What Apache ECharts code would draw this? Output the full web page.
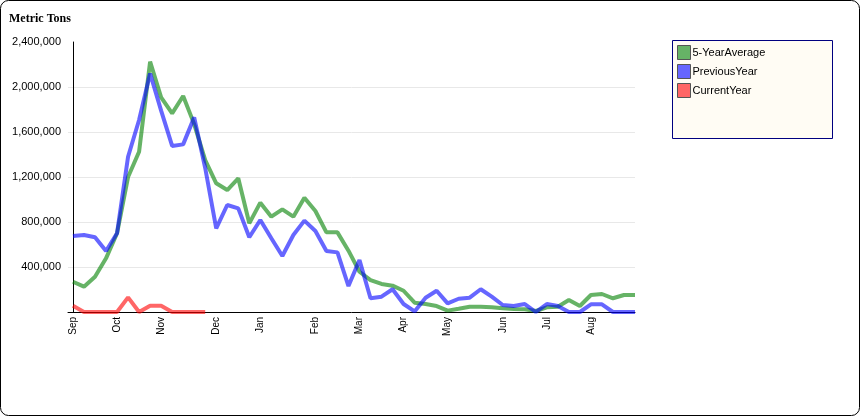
<!DOCTYPE html>
<html>
<head>
<meta charset="utf-8">
<script src="https://cdn.jsdelivr.net/npm/echarts@6/dist/echarts.min.js"></script>
<style>
html,body{margin:0;padding:0;background:#fff;}
#chart{width:860px;height:416px;}
</style>
</head>
<body>
<div id="chart"></div>
<script>
// Month tick labels at week indices
const monthLabels = ['Sep','Oct','Nov','Dec','Jan','Feb','Mar','Apr','May','Jun','Jul','Aug'];
const monthWeekIndex = [0,4,8,13,17,22,26,30,34,39,43,47];
const weekCount = 52;

const fiveYearAverage = [269000,225000,314000,477000,700000,1200000,1425000,2225000,1908000,1766000,
  1920000,1670000,1350000,1144000,1084000,1188000,788000,972000,847000,913000,
  847000,1016000,898000,708000,708000,545000,358000,284000,249000,234000,
  189000,83000,71000,53000,12000,29000,47000,47000,42000,33000,
  27000,24000,9000,42000,47000,107000,53000,151000,160000,122000,
  151000,151000];
const previousYear = [676000,684000,664000,542000,700000,1380000,1707000,2120000,1790000,1476000,
  1490000,1730000,1280000,744000,951000,921000,664000,818000,655000,498000,
  684000,812000,720000,542000,530000,231000,462000,122000,136000,202000,
  71000,5000,127000,189000,77000,118000,127000,202000,136000,62000,
  53000,71000,0,71000,53000,0,0,68000,68000,0,
  0,0];
const currentYear = [56000,0,0,0,0,130000,0,56000,56000,0,0,0,0];

const yTicks = [0,400000,800000,1200000,1600000,2000000,2400000];

const toPairs = arr => arr.map((v, i) => [i, v]);

const chart = echarts.init(document.getElementById('chart'), null, {renderer:'canvas'});
const fmt = v => v === 0 ? '' : v.toLocaleString('en-US');

chart.setOption({
  animation: false,
  backgroundColor: '#fff',
  title: {
    text: 'Metric Tons',
    left: 9, top: 13,
    padding: 0,
    textStyle: {fontFamily: 'Liberation Serif', fontWeight: 'bold', fontSize: 12, color: '#000'}
  },
  graphic: [
    {type:'rect', z:0, shape:{x:0.5,y:0.5,width:859,height:415,r:8}, style:{fill:'none',stroke:'#000',lineWidth:1}},
    {type:'rect', z:0, shape:{x:672.5,y:40.5,width:160,height:98}, style:{fill:'#fffcf4',stroke:'#000080',lineWidth:1}}
  ],
  legend: {
    z: 5,
    orient: 'vertical',
    left: 677, top: 45,
    padding: 0,
    itemGap: 4,
    itemWidth: 13, itemHeight: 14,
    icon: 'rect',
    textStyle: {fontFamily: 'Liberation Sans', fontSize: 11, color: '#000', padding:[0,0,0,-3]},
    data: [
      {name:'5-YearAverage', itemStyle:{color:'#66b366', borderColor:'#555', borderWidth:1}},
      {name:'PreviousYear', itemStyle:{color:'#6666ff', borderColor:'#555', borderWidth:1}},
      {name:'CurrentYear', itemStyle:{color:'#ff6666', borderColor:'#555', borderWidth:1}}
    ]
  },
  grid: {left: 68, right: 225, top: 42, bottom: 104, containLabel: false},
  xAxis: {
    type: 'value',
    min: -0.45, max: weekCount - 1,
    axisLine: {show: true, onZero: false, lineStyle: {color: '#000', width: 1}},
    axisTick: {show: false},
    axisLabel: {
      customValues: monthWeekIndex,
      formatter: v => monthLabels[monthWeekIndex.indexOf(Math.round(v))] || '',
      rotate: 90, margin: 5, fontFamily: 'Liberation Sans', fontSize: 10, color: '#000'
    },
    splitLine: {show: false}
  },
  yAxis: {
    type: 'value',
    min: yTicks[0], max: yTicks[yTicks.length-1], interval: yTicks[1]-yTicks[0],
    axisLine: {show: true, lineStyle: {color: '#000', width: 1}},
    axisTick: {show: false},
    axisLabel: {formatter: fmt, margin: 7, fontFamily: 'Liberation Sans', fontSize: 11, color: '#000'},
    splitLine: {show: true, lineStyle: {color: ['rgba(0,0,0,0)','#e8e8e8','#e8e8e8','#e8e8e8','#e8e8e8','#e8e8e8','rgba(0,0,0,0)'], width: 1}}
  },
  series: [
    {name:'5-YearAverage', type:'line', data: toPairs(fiveYearAverage), showSymbol:false, symbol:'none',
      lineStyle:{color:'#008000', width:4, opacity:0.6}, itemStyle:{color:'#66b366'}},
    {name:'PreviousYear', type:'line', data: toPairs(previousYear), showSymbol:false, symbol:'none',
      lineStyle:{color:'#0000ff', width:4, opacity:0.6}, itemStyle:{color:'#6666ff'}},
    {name:'CurrentYear', type:'line', data: toPairs(currentYear), showSymbol:false, symbol:'none',
      lineStyle:{color:'#ff0000', width:4, opacity:0.6}, itemStyle:{color:'#ff6666'}}
  ]
});
</script>
</body>
</html>
